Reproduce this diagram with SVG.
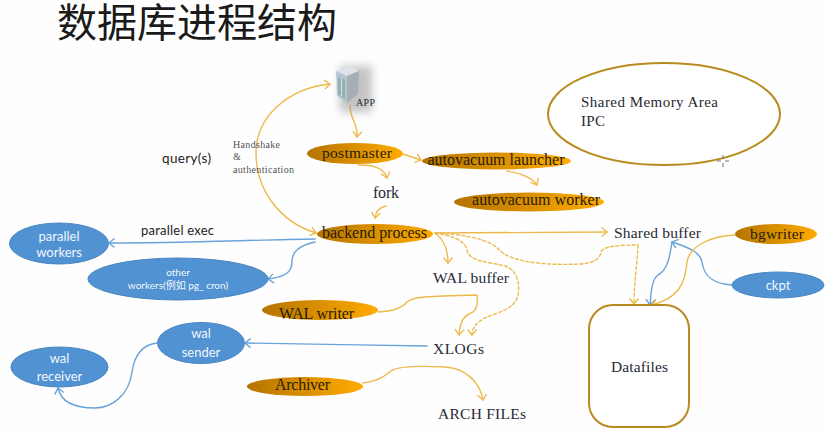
<svg xmlns="http://www.w3.org/2000/svg" width="826" height="433" viewBox="0 0 826 433">
<style>
.s{font-family:"Liberation Serif",serif;fill:#262a33}
.b{font-family:"Liberation Serif",serif;fill:#2a1c04}
.w{font-family:Lato,sans-serif;fill:#f2f7fc;text-anchor:middle}
.wc{font-family:Lato,"Noto Sans CJK SC",sans-serif;fill:#f2f7fc;text-anchor:middle}
.k{font-family:Lato,sans-serif;fill:#1c1c22}
.go{fill:url(#g)}
.bl{fill:#5092d2;stroke:#4a86c0;stroke-width:1}
.c{fill:none;stroke-width:1.4;stroke-linecap:round}
.y{stroke:#eeb94c;marker-end:url(#ay)}
.u{stroke:#6aa3da;marker-end:url(#au)}
.d{stroke-dasharray:3 2.4}
</style>
<defs>
<linearGradient id="g"><stop offset="0" stop-color="#b57400"/><stop offset="1" stop-color="#ffab00"/></linearGradient>
<marker id="ay" markerWidth="12" markerHeight="12" refX="9" refY="6" orient="auto-start-reverse" markerUnits="userSpaceOnUse"><path d="M3.5 1.5L9 6L3.5 10.5" fill="none" stroke="#eeb94c" stroke-width="1.4"/></marker>
<marker id="au" markerWidth="12" markerHeight="12" refX="9" refY="6" orient="auto" markerUnits="userSpaceOnUse"><path d="M3.5 1.5L9 6L3.5 10.5" fill="none" stroke="#6aa3da" stroke-width="1.4"/></marker>
<filter id="bl" x="-40%" y="-40%" width="180%" height="180%"><feGaussianBlur stdDeviation="4"/></filter>
</defs>
<rect width="826" height="433" fill="#fefefe"/>
<text id="title" x="57" y="37" font-size="40" style="font-family:'Liberation Serif','Noto Sans CJK SC',sans-serif;fill:#1a1a1a">数据库进程结构</text>

<g id="connectors">
<path class="c y" marker-start="url(#ay)" d="M316 233C280 222 256 190 256 153C256 115 290 88 330 84"/>
<path class="c y" d="M350 106C350 120 358 122 357 137"/>
<path class="c y" d="M403 154L421 160"/>
<path class="c y" d="M358 165C372 165 384 167 387 178"/>
<path class="c y" d="M386 206C378 208 376 212 375 218"/>
<path class="c y" d="M507 171C520 173 533 178 537 185"/>
<path class="c y" d="M435 233L607 232"/>
<path class="c y" d="M435 233C442 238 448 248 448 263"/>
<path class="c y d" d="M435 233C450 235 465 240 467 250C469 262 490 262 505 266C518 270 520 285 518 295C515 310 495 313 485 318C476 323 472 328 472 335"/>
<path class="c y d" style="marker-end:none" d="M435 233C460 234 485 238 496 247C503 253 505 256 520 260C535 264 560 265 580 264C595 263 600 258 601 252C603 246 620 245 638 245"/>
<path class="c y d" d="M638 245C637 265 634 285 634 304"/>
<path class="c y" d="M378 312C392 311 401 309 407 302C412 297 425 296 477 295C478 302 478 308 473 312C463 316 460 322 459 335"/>
<path class="c y" d="M363 383C378 381 385 376 391 371C398 366 425 366 445 367C465 368 480 382 483 400"/>
<path class="c u" d="M427 346C370 345 300 344 245 343"/>
<path class="c u" d="M315 239C250 240 180 243 109 243"/>
<path class="c u" d="M315 242C298 246 292 252 292 262C292 272 285 277 268 279"/>
<path class="c u" d="M157 343C140 345 134 358 132 372C129 395 112 408 95 408C75 408 61 402 58 388"/>
<path class="c u" d="M732 285C715 284 704 278 702 262C700 252 690 248 672 242"/>
<path class="c u" d="M672 242C670 255 668 270 658 275C652 279 651 292 650 305"/>
<path class="c y" d="M735 235C712 236 690 245 687 262C685 285 678 298 652 305"/>
</g>

<g id="app">
<rect x="340" y="66" width="32" height="46" fill="#8a8a8a" opacity=".5" filter="url(#bl)"/>
<polygon points="336,71 349,65 359,71 347,76" fill="#dde3e9"/>
<polygon points="336,71 347,76 347,103 337,96" fill="#b4c6d6"/>
<polygon points="347,76 359,71 358,94 347,103" fill="#a9aeb5"/>
<path d="M338 77L345 80V99L338 94Z" fill="#94b3a8"/>
<path d="M341.500 78.500V96" stroke="#d6e0e6" stroke-width="1"/>
<text x="356" y="106" font-size="10" class="s" textLength="19">APP</text>
</g>
<g id="postmaster"><ellipse cx="355" cy="153.500" rx="48" ry="10.500" class="go"/><text x="322" y="158" font-size="15.500" class="b" textLength="70">postmaster</text></g>
<g id="autovacuum-launcher"><ellipse cx="496.500" cy="161" rx="74.500" ry="8.500" class="go"/><text x="427.500" y="165" font-size="16" class="b" textLength="137">autovacuum launcher</text></g>
<g id="autovacuum-worker"><ellipse cx="529" cy="202" rx="75" ry="9.500" class="go"/><text x="472" y="205" font-size="16" class="b" textLength="128">autovacuum worker</text></g>
<g id="backend"><ellipse cx="375" cy="234" rx="58" ry="10" class="go"/><text x="322" y="238" font-size="16" class="b" textLength="105">backend process</text></g>
<g id="wal-writer"><ellipse cx="320" cy="310" rx="58" ry="10" class="go"/><text x="279" y="319" font-size="16" class="b" textLength="75">WAL writer</text></g>
<g id="archiver"><ellipse cx="305" cy="386.500" rx="58" ry="9.500" class="go"/><text x="275" y="390" font-size="16" class="b" textLength="55">Archiver</text></g>
<g id="bgwriter"><ellipse cx="776" cy="234" rx="41" ry="10" class="go"/><text x="750" y="239" font-size="15.500" class="b" textLength="54">bgwriter</text></g>

<g id="fork"><text x="373" y="198" font-size="16" class="s" textLength="26">fork</text></g>
<g id="shared-buffer"><text x="614" y="238" font-size="15.500" class="s" textLength="87">Shared buffer</text></g>
<g id="wal-buffer"><text x="433" y="283" font-size="15.500" class="s" textLength="76">WAL buffer</text></g>
<g id="xlogs"><text x="433" y="354" font-size="15.500" class="s" textLength="51">XLOGs</text></g>
<g id="arch-files"><text x="438" y="419" font-size="15.500" class="s" textLength="88">ARCH FILEs</text></g>

<g id="shared-memory">
<ellipse cx="664" cy="114" rx="116" ry="51" fill="#fff" stroke="#b98a1e" stroke-width="2"/>
<text x="581" y="107" font-size="15" class="s" textLength="137">Shared Memory Area</text>
<text x="581" y="126" font-size="15" class="s" textLength="24">IPC</text>
</g>
<path d="M723 155V159M723 163V167M717 161H721M725 161H729" stroke="#777" stroke-width="1" fill="none"/>
<g id="datafiles">
<rect x="589" y="305" width="100" height="122" rx="24" fill="#fff" stroke="#b98a1e" stroke-width="2"/>
<text x="611" y="372" font-size="15.500" class="s" textLength="57">Datafiles</text>
</g>

<g id="parallel-workers"><ellipse cx="59" cy="243.500" rx="49.500" ry="20.500" class="bl"/><text x="59" y="241" font-size="13" class="w">parallel</text><text x="59" y="257" font-size="13" class="w">workers</text></g>
<g id="other-workers"><ellipse cx="178" cy="279" rx="90" ry="21" class="bl"/><text x="178" y="276" font-size="10" class="w">other</text><text x="178" y="289" font-size="10" class="wc">workers(例如 pg_ cron)</text></g>
<g id="wal-sender"><ellipse cx="201" cy="343" rx="43.500" ry="20.500" class="bl"/><text x="201" y="338" font-size="13" class="w">wal</text><text x="201" y="357" font-size="13" class="w">sender</text></g>
<g id="wal-receiver"><ellipse cx="59.500" cy="367" rx="48.500" ry="20" class="bl"/><text x="59.500" y="363" font-size="13" class="w">wal</text><text x="59.500" y="381" font-size="13" class="w">receiver</text></g>
<g id="ckpt"><ellipse cx="778" cy="285" rx="46" ry="13" class="bl"/><text x="778" y="290" font-size="13" class="w">ckpt</text></g>

<g id="labels">
<text x="162" y="163" font-size="13.500" class="k" textLength="49">query(s)</text>
<text x="141" y="235" font-size="13" class="k" textLength="73">parallel exec</text>
<text x="233" y="148" font-size="10" class="s" fill-opacity=".85" textLength="47">Handshake</text>
<text x="233" y="160" font-size="10" class="s" fill-opacity=".85">&amp;</text>
<text x="233" y="173" font-size="10" class="s" fill-opacity=".85" textLength="61">authentication</text>
</g>
</svg>
